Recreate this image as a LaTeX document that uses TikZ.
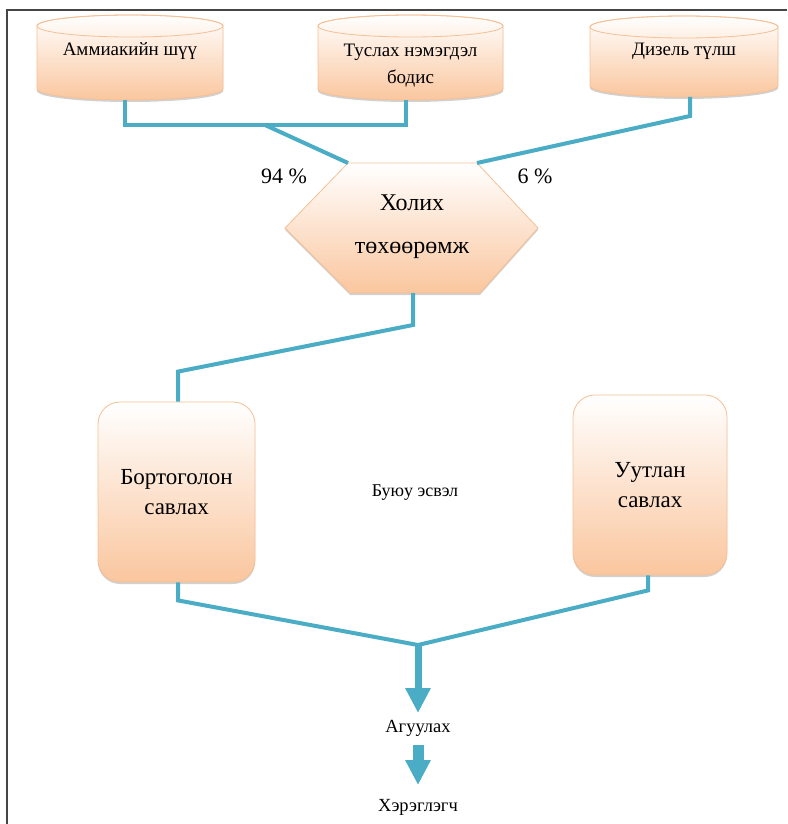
\documentclass[tikz,border=0pt]{standalone}
\usepackage{fontspec}
\setmainfont{Liberation Serif}
\usetikzlibrary{arrows.meta,calc,shadows}
\definecolor{link}{RGB}{75,172,198}
\definecolor{peach}{RGB}{250,198,158}
\definecolor{peachline}{RGB}{244,192,150}
\definecolor{frame}{RGB}{70,70,70}
\newcommand\fs[2]{\fontsize{#1pt}{#2pt}\selectfont}
\newcommand\cylfrom[3]{%
  \path[shapefill] ($(#1.north west)+(0,-#3)$) -- ($(#1.south west)+(0,#3)$)
     arc[start angle=180,end angle=360,x radius=#2,y radius=#3]
     -- ($(#1.north east)+(0,-#3)$)
     arc[start angle=0,end angle=180,x radius=#2,y radius=#3] -- cycle;
  \draw[peachline,line width=0.8pt] ($(#1.north)+(0,-#3)$) ellipse[x radius=#2,y radius=#3];
}
\tikzset{
  shapefill/.style={top color=white, bottom color=peach, draw=peachline, line width=0.8pt,
     drop shadow={shadow xshift=0pt, shadow yshift=-2pt, opacity=0.18, fill=black}},
  hidden/.style={inner sep=0pt, outer sep=0pt},
  conn/.style={draw=link, line width=4pt},
  txt/.style={inner sep=1pt, align=center, text=black},
  rbox/.style={shapefill, rounded corners=22pt, align=center, inner sep=0pt, font=\fs{23}{30}},
}
\begin{document}
\begin{tikzpicture}[x=1pt,y=1pt]
\useasboundingbox (0,0) rectangle (787,-824);
% frame
\draw[frame, line width=1.6pt] (7,-824) -- (7,-10) -- (787,-10);

% cylinders
\node[hidden, minimum width=186pt, minimum height=85pt] (c1) at (130,-57.5) {};
\node[hidden, minimum width=185pt, minimum height=85pt] (c2) at (410.5,-57.5) {};
\node[hidden, minimum width=188pt, minimum height=81pt] (c3) at (684,-56.5) {};
\cylfrom{c1}{93}{11}
\cylfrom{c2}{92.5}{11}
\cylfrom{c3}{94}{11}
\node[txt, font=\fs{19}{27}] (t1) at (130,-51) {Аммиакийн шүү};
\node[txt, font=\fs{19}{27}] (t2) at (410.5,-66) {Туслах нэмэгдэл\\бодис};
\node[txt, font=\fs{19}{27}] (t3) at (684,-51) {Дизель түлш};

% hexagon
\coordinate (h1) at (348,-163);
\coordinate (h2) at (477,-163);
\coordinate (h3) at (538,-228);
\coordinate (h4) at (480,-293);
\coordinate (h5) at (350,-293);
\coordinate (h6) at (285,-228);
\coordinate (hb) at (413,-293);
\path[shapefill] (h1) -- (h2) -- (h3) -- (h4) -- (h5) -- (h6) -- cycle;
\node[txt, font=\fs{24}{43}] (mix) at (412,-226.5) {Холих\\төхөөрөмж};

% percentages
\node[txt, font=\fs{22}{24}] (p94) at (284,-176) {94 \%};
\node[txt, font=\fs{22}{24}] (p6) at (535,-176) {6 \%};

% connectors top
\coordinate (j1) at (265,-125);
\draw[conn] ([xshift=-5pt]c1.south) -- ++(0,-25) -| ([xshift=-5pt]c2.south);
\draw[conn] (j1) -- (h1);
\draw[conn] ([xshift=6pt]c3.south) -- ++(0,-19) -- (h2);

% boxes
\node[rbox, minimum width=157pt, minimum height=180pt] (b1) at (176.5,-492) {Бортоголон\\савлах};
\node[rbox, minimum width=154pt, minimum height=180pt] (b2) at (650,-485) {Уутлан\\савлах};
\node[txt, font=\fs{18}{20}] (or) at (415,-493) {Буюу эсвэл};

\draw[conn] (hb) -- ++(0,-32) -- ($(b1.north)+(1.5,30)$) -- ([xshift=1.5pt]b1.north);

% bottom connectors
\coordinate (jn) at (418,-645);
\draw[conn] ([xshift=1.5pt]b1.south) -- ++(0,-18) -- (jn);
\draw[conn] ([xshift=-2pt]b2.south) -- ++(0,-15) -- (jn);

% arrows
\coordinate (a1) at (418,-713);
\coordinate (a2s) at (418,-745);
\coordinate (a2) at (418,-785);
\draw[link, line width=7pt, -{Triangle[width=24pt,length=25pt]}] ([yshift=2pt]jn) -- (a1);
\node[txt, font=\fs{18.5}{20}] (agu) at (418,-728) {Агуулах};
\draw[link, line width=11pt, -{Triangle[width=24pt,length=25pt]}] (a2s) -- (a2);
\node[txt, font=\fs{18.5}{20}] (her) at (418,-807) {Хэрэглэгч};
\end{tikzpicture}
\end{document}
